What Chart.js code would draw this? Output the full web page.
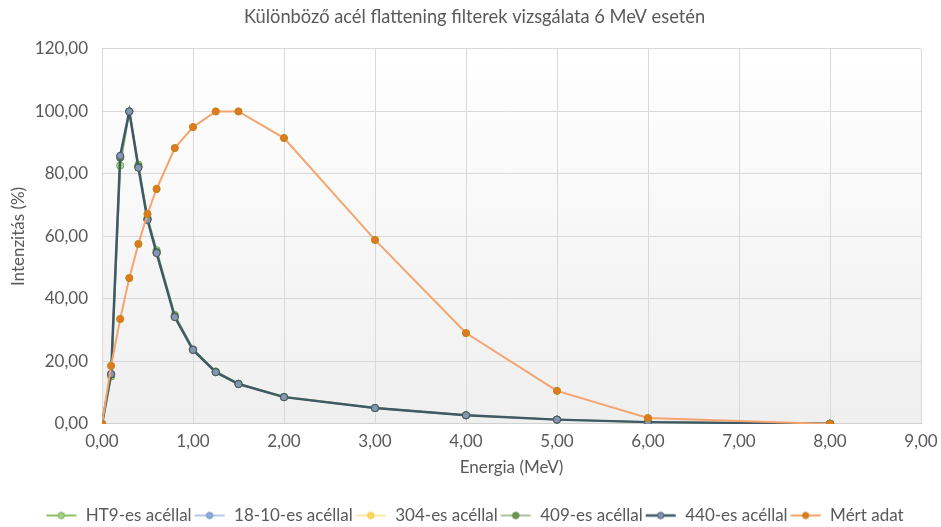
<!DOCTYPE html>
<html>
<head>
<meta charset="utf-8">
<script src="https://cdn.jsdelivr.net/npm/chart.js@4/dist/chart.umd.min.js"></script>
<style>
  html, body { margin: 0; padding: 0; background: #ffffff; }
  #wrap { width: 941px; height: 527px; }
</style>
</head>
<body>
<div id="wrap"><canvas id="c" width="941" height="527"></canvas></div>
<script>
// Energy points (MeV)
const energy = [0, 0.1, 0.2, 0.3, 0.4, 0.5, 0.6, 0.8, 1.0, 1.25, 1.5, 2, 3, 4, 5, 6, 8];

// Relative intensity (%) for each steel filter
const ht9      = [0, 15.2, 82.7, 100, 83.0, 66.0, 55.6, 34.9, 23.9, 16.8, 12.9, 8.7, 5.1, 2.8, 1.4, 0.6, 0.1];
const steel1810 = [0, 16.0, 85.6, 100, 82.2, 65.4, 54.8, 34.3, 23.7, 16.6, 12.8, 8.6, 5.1, 2.8, 1.4, 0.6, 0.1];
const steel304 = [0, 16.0, 85.7, 100, 82.1, 65.3, 54.7, 34.2, 23.7, 16.6, 12.8, 8.6, 5.1, 2.8, 1.4, 0.6, 0.1];
const steel409 = [0, 15.8, 85.2, 100, 82.4, 65.6, 55.0, 34.5, 23.8, 16.7, 12.8, 8.6, 5.1, 2.8, 1.4, 0.6, 0.1];
const steel440 = [0, 16.0, 85.8, 100, 82.0, 65.3, 54.7, 34.2, 23.7, 16.6, 12.8, 8.6, 5.1, 2.8, 1.4, 0.6, 0.1];
const measured = [0, 18.6, 33.6, 46.7, 57.6, 67.2, 75.2, 88.3, 95.0, 100, 100, 91.5, 58.9, 29.1, 10.6, 1.9, 0];

const seriesNames = ['HT9-es acéllal', '18-10-es acéllal', '304-es acéllal', '409-es acéllal', '440-es acéllal', 'Mért adat'];
const xTicks = [0, 1, 2, 3, 4, 5, 6, 7, 8, 9];
const yTicks = [0, 20, 40, 60, 80, 100, 120];

const FONT = "Lato, 'Open Sans', sans-serif";
const TEXT = '#595959';

function pts(vals) { return energy.map((x, i) => ({ x: x, y: vals[i] })); }
function fmt(v) { return Number(v).toFixed(2).replace('.', ','); }

// Small line-with-marker swatch for legend entries
function swatch(line, fill, border, lw) {
  const c = document.createElement('canvas');
  c.width = 32; c.height = 12;
  const g = c.getContext('2d');
  g.strokeStyle = line; g.lineWidth = lw;
  g.beginPath(); g.moveTo(1, 6); g.lineTo(31, 6); g.stroke();
  g.fillStyle = fill; g.strokeStyle = border; g.lineWidth = 1;
  g.beginPath(); g.arc(16, 6, 3.2, 0, Math.PI * 2); g.fill(); g.stroke();
  return c;
}

const styles = [
  { line: '#8CC168', fill: '#A9D18E', border: '#70AD47', lw: 2 },
  { line: '#9DB5E3', fill: '#8FAADC', border: '#6F8FCB', lw: 1.5 },
  { line: '#FFE08A', fill: '#FFD966', border: '#F2C230', lw: 1.5 },
  { line: '#8FAF7A', fill: '#6E9A52', border: '#4F7A36', lw: 1.5 },
  { line: '#3F5A66', fill: '#8497B0', border: '#44546A', lw: 2.5 },
  { line: '#F4A46F', fill: '#E2791E', border: '#B88A1A', lw: 2 }
];

const seriesVals = [ht9, steel1810, steel304, steel409, steel440, measured];

const datasets = seriesVals.map((vals, i) => ({
  label: seriesNames[i],
  data: pts(vals),
  showLine: true,
  borderColor: styles[i].line,
  borderWidth: styles[i].lw,
  backgroundColor: styles[i].fill,
  pointBackgroundColor: styles[i].fill,
  pointBorderColor: styles[i].border,
  pointBorderWidth: 1,
  pointRadius: 3.6,
  pointHoverRadius: 3.6,
  tension: 0,
  legendSwatch: swatch(styles[i].line, styles[i].fill, styles[i].border, styles[i].lw),
  order: 6 - i
}));

// Soft vertical gradient behind the plot area
const plotBackground = {
  id: 'plotBackground',
  beforeDraw(chart) {
    const { ctx, chartArea: a } = chart;
    const grad = ctx.createLinearGradient(0, a.top, 0, a.bottom);
    grad.addColorStop(0, '#ffffff');
    grad.addColorStop(1, '#efefef');
    ctx.save();
    ctx.fillStyle = grad;
    ctx.fillRect(a.left, a.top, a.right - a.left, a.bottom - a.top);
    ctx.restore();
  }
};

// Trim the legend's built-in bottom gap so it sits lower
const compactLegend = {
  id: 'compactLegend',
  afterInit(chart) {
    const lg = chart.legend;
    if (!lg) return;
    const fit = lg.fit.bind(lg);
    lg.fit = function () { fit(); this.height -= 7; };
  }
};

new Chart(document.getElementById('c'), {
  type: 'scatter',
  data: { datasets: datasets },
  plugins: [plotBackground, compactLegend],
  options: {
    responsive: false,
    animation: false,
    devicePixelRatio: 1,
    layout: { padding: { left: 8, right: 0, top: 4, bottom: 0 } },
    plugins: {
      title: {
        display: true,
        text: 'Különböző acél flattening filterek vizsgálata 6 MeV esetén',
        color: TEXT,
        font: { family: FONT, size: 18.3, weight: 'normal' },
        padding: { top: 2, bottom: 21 }
      },
      legend: {
        display: true,
        position: 'bottom',
        labels: {
          color: TEXT,
          font: { family: FONT, size: 17, lineHeight: 0.5 },
          usePointStyle: true,
          pointStyleWidth: 32,
          boxHeight: 12,
          padding: 2,
          generateLabels(chart) {
            return chart.data.datasets.map((ds, i) => ({
              text: ds.label,
              pointStyle: ds.legendSwatch,
              fillStyle: ds.backgroundColor,
              strokeStyle: ds.borderColor,
              lineWidth: 0,
              hidden: false,
              datasetIndex: i,
              fontColor: TEXT
            }));
          }
        }
      },
      tooltip: { enabled: false }
    },
    scales: {
      x: {
        type: 'linear',
        min: 0, max: 9,
        afterBuildTicks(scale) { scale.ticks = xTicks.map(v => ({ value: v })); },
        afterFit(scale) { scale.paddingRight = 20; },
        ticks: { color: TEXT, font: { family: FONT, size: 17, lineHeight: 1.0 }, padding: 9, callback: v => fmt(v) },
        grid: { color: '#D9D9D9', lineWidth: 1, drawTicks: false },
        border: { color: '#D0D0D0', width: 1 },
        title: { display: true, text: 'Energia (MeV)', color: TEXT, font: { family: FONT, size: 17, lineHeight: 1.0 }, padding: { top: 0, bottom: 29 } }
      },
      y: {
        type: 'linear',
        min: 0, max: 120,
        afterBuildTicks(scale) { scale.ticks = yTicks.map(v => ({ value: v })); },
        afterFit(scale) { scale.width = 94; },
        ticks: { color: TEXT, font: { family: FONT, size: 17 }, padding: 14, callback: v => fmt(v) },
        grid: { color: '#D9D9D9', lineWidth: 1, drawTicks: false },
        border: { display: false },
        title: { display: true, text: 'Intenzitás (%)', color: TEXT, font: { family: FONT, size: 17 }, padding: { top: 0, bottom: 2 } }
      }
    }
  }
});
</script>
</body>
</html>
